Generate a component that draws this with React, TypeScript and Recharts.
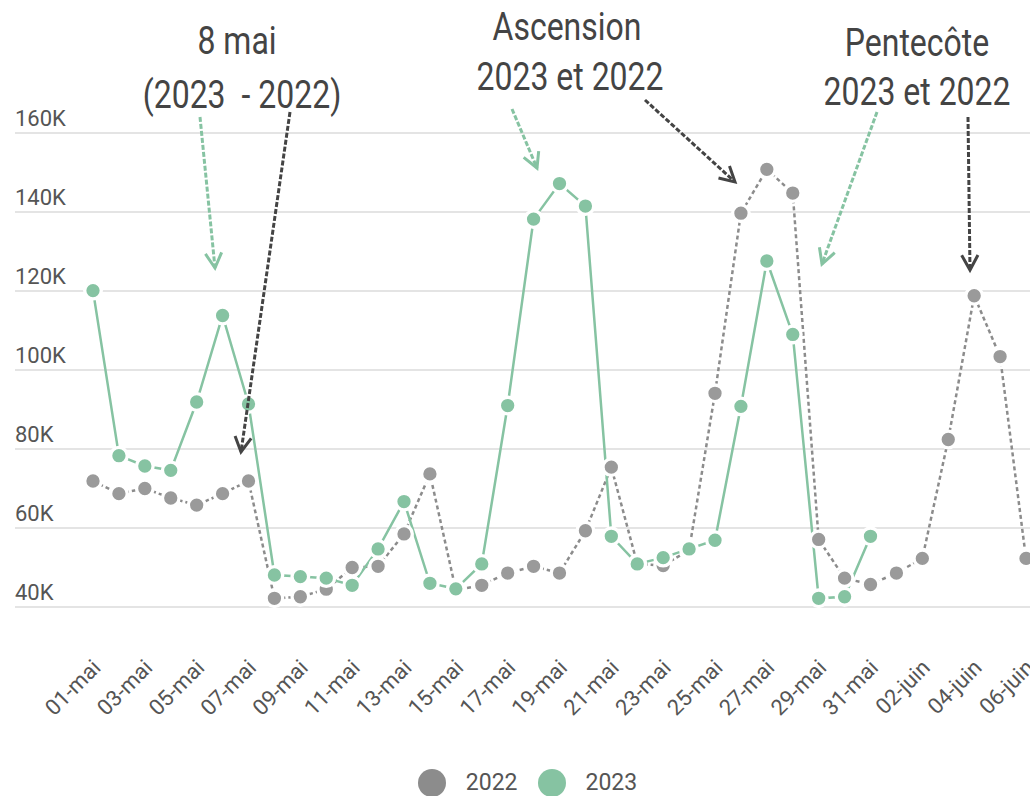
import { CartesianGrid, Legend, Line, LineChart, XAxis, YAxis } from "recharts";

const days = [
  "01-mai", "02-mai", "03-mai", "04-mai", "05-mai", "06-mai", "07-mai", "08-mai",
  "09-mai", "10-mai", "11-mai", "12-mai", "13-mai", "14-mai", "15-mai", "16-mai",
  "17-mai", "18-mai", "19-mai", "20-mai", "21-mai", "22-mai", "23-mai", "24-mai",
  "25-mai", "26-mai", "27-mai", "28-mai", "29-mai", "30-mai", "31-mai",
  "01-juin", "02-juin", "03-juin", "04-juin", "05-juin", "06-juin",
];

const visits2022 = [
  71900, 68700, 70000, 67600, 65800, 68700, 71900, 42200, 42600, 44500, 50000,
  50300, 58500, 73700, 44300, 45500, 48600, 50300, 48600, 59300, 75400, 50900,
  50500, 54400, 94100, 139700, 150800, 144800, 57100, 47300, 45700, 48600,
  52300, 82400, 118800, 103400, 52300,
];

const visits2023 = [
  120100, 78300, 75700, 74600, 91900, 113800, 91400, 48100, 47700, 47300, 45500,
  54700, 66700, 46000, 44600, 50900, 91000, 138200, 147200, 141500, 57900, 50900,
  52500, 54700, 56900, 90800, 127600, 109000, 42200, 42600, 57900,
  null, null, null, null, null, null,
];

const yTicks = [40000, 60000, 80000, 100000, 120000, 140000, 160000];

const GREEN = "#86c3a2";
const GRAY = "#9a9a9a";
const FONT = "Roboto, 'Noto Sans', sans-serif";

const data = days.map((day, i) => ({
  day,
  y2022: visits2022[i],
  y2023: visits2023[i],
}));

// annotation texts + dashed arrows drawn over the chart
const notes = [
  { text: "8 mai", x: 237, y: 54 },
  { text: "(2023  - 2022)", x: 242, y: 108 },
  { text: "Ascension", x: 567, y: 40 },
  { text: "2023 et 2022", x: 570, y: 90 },
  { text: "Pentecôte", x: 917, y: 56 },
  { text: "2023 et 2022", x: 917, y: 105 },
];

const arrows = [
  { x1: 200, y1: 117, x2: 215, y2: 268, color: GREEN },
  { x1: 290, y1: 112, x2: 241, y2: 452, color: "#444" },
  { x1: 512, y1: 109, x2: 537, y2: 168, color: GREEN },
  { x1: 645, y1: 100, x2: 735, y2: 182, color: "#444" },
  { x1: 877, y1: 112, x2: 822, y2: 264, color: GREEN },
  { x1: 968, y1: 117, x2: 970, y2: 270, color: "#444" },
];

const Arrow = ({ x1, y1, x2, y2, color }: any) => {
  const a = Math.atan2(y2 - y1, x2 - x1);
  const len = 17;
  const w = 0.5;
  const p1 = [x2 - len * Math.cos(a - w), y2 - len * Math.sin(a - w)];
  const p2 = [x2 - len * Math.cos(a + w), y2 - len * Math.sin(a + w)];
  return (
    <g>
      <line x1={x1} y1={y1} x2={x2} y2={y2} stroke={color} strokeWidth={3} strokeDasharray="5 2" />
      <polyline
        points={`${p1[0]},${p1[1]} ${x2},${y2} ${p2[0]},${p2[1]}`}
        fill="none"
        stroke={color}
        strokeWidth={3}
      />
    </g>
  );
};

const XTick = ({ x, y, payload }: any) => (
  <g transform={`translate(${x + 9},${y + 62})`}>
    <text textAnchor="end" transform="rotate(-45)" fontSize={22} fill="#555" fontFamily={FONT}>
      {payload.value}
    </text>
  </g>
);

const YTick = ({ x, y, payload }: any) => (
  <text x={x} y={y - 7} textAnchor="start" fontSize={22} fill="#555" fontFamily={FONT}>
    {payload.value / 1000}K
  </text>
);

const LegendBox = ({ payload }: any) => (
  <div style={{ display: "flex", justifyContent: "center", paddingRight: 20, fontFamily: FONT }}>
    {(payload || []).map((p: any) => (
      <div key={p.value} style={{ display: "flex", alignItems: "center", margin: "0 10px" }}>
        <span
          style={{
            width: 28,
            height: 28,
            borderRadius: 14,
            background: p.color,
            display: "inline-block",
            marginRight: 20,
          }}
        />
        <span style={{ fontSize: 23, color: "#555", lineHeight: "26px" }}>{p.value}</span>
      </div>
    ))}
  </div>
);

export default function App() {
  return (
    <div
      style={{
        position: "fixed",
        left: 0,
        top: 0,
        width: 1030,
        height: 796,
        overflow: "hidden",
        background: "#fff",
      }}
    >
      <LineChart
        width={1060}
        height={801}
        data={data}
        margin={{ top: 133, right: 0, left: 15, bottom: 0 }}
      >
        <CartesianGrid vertical={false} stroke="#e4e4e4" strokeWidth={2} />
        <XAxis
          dataKey="day"
          interval={1}
          padding={{ left: 78, right: 34 }}
          axisLine={false}
          tickLine={false}
          tickSize={0}
          tickMargin={0}
          height={162}
          tick={<XTick />}
        />
        <YAxis
          mirror
          domain={[40000, 160000]}
          ticks={yTicks}
          axisLine={false}
          tickLine={false}
          tickSize={0}
          tickMargin={0}
          tick={<YTick />}
        />
        <Legend verticalAlign="bottom" height={32} content={<LegendBox />} />
        <Line
          name="2022"
          dataKey="y2022"
          stroke="#8c8c8c"
          strokeWidth={2.5}
          strokeDasharray="4 3"
          dot={{ r: 8.3, fill: GRAY, stroke: "#fff", strokeWidth: 3.3, strokeDasharray: "" }}
          isAnimationActive={false}
        />
        <Line
          name="2023"
          dataKey="y2023"
          stroke={GREEN}
          strokeWidth={2.5}
          dot={{ r: 8.3, fill: GREEN, stroke: "#fff", strokeWidth: 3.3 }}
          isAnimationActive={false}
        />
      </LineChart>
      <svg
        width={1030}
        height={796}
        style={{ position: "absolute", left: 0, top: 0, pointerEvents: "none" }}
      >
        {arrows.map((a, i) => (
          <Arrow key={i} {...a} />
        ))}
        {notes.map((n, i) => (
          <text
            key={i}
            transform={`translate(${n.x},${n.y}) scale(1,1.2)`}
            textAnchor="middle"
            fontSize={32}
            fill="#444"
            fontFamily={FONT}
            style={{ whiteSpace: "pre" }}
          >
            {n.text}
          </text>
        ))}
      </svg>
    </div>
  );
}
